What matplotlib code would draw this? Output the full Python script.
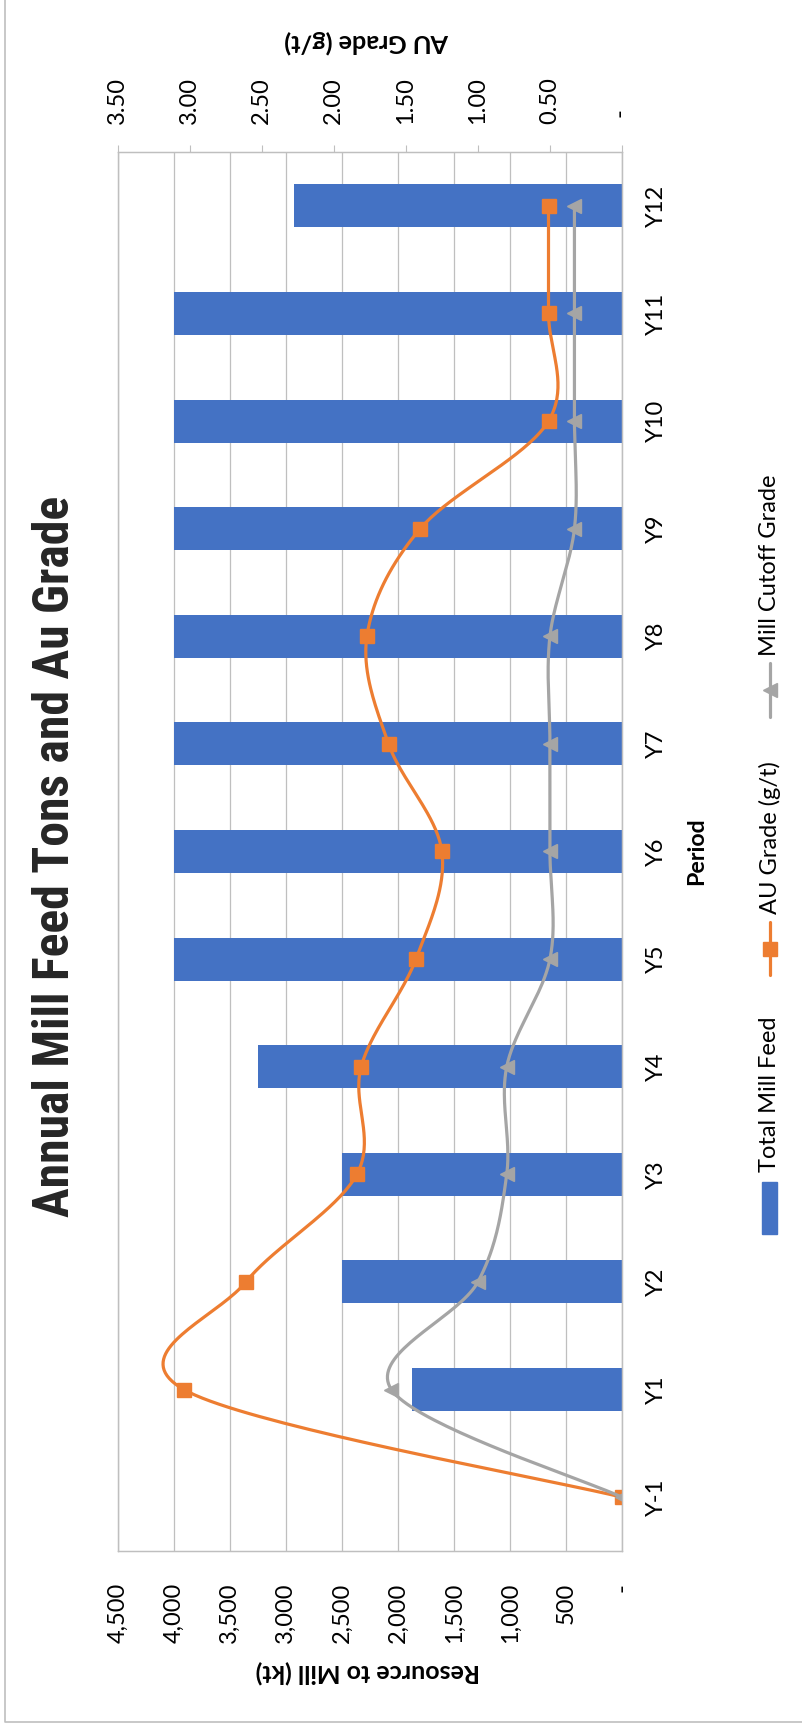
import numpy as np
import matplotlib.pyplot as plt
from matplotlib.lines import Line2D
from matplotlib.patches import Rectangle

plt.rcParams['font.family'] = ['Lato', 'DejaVu Sans']

# data
periods = ["Y-1", "Y1", "Y2", "Y3", "Y4", "Y5", "Y6", "Y7", "Y8", "Y9", "Y10", "Y11", "Y12"]
mill_feed_kt = [0, 1875, 2500, 2500, 3250, 4000, 4000, 4000, 4000, 4000, 4000, 4000, 2925]
au_grade = [0, 3.04, 2.61, 1.84, 1.81, 1.43, 1.25, 1.62, 1.77, 1.40, 0.51, 0.51, 0.51]
cutoff_grade = [0, 1.60, 1.00, 0.80, 0.80, 0.50, 0.50, 0.50, 0.50, 0.33, 0.33, 0.33, 0.33]

kt_ticks = [0, 500, 1000, 1500, 2000, 2500, 3000, 3500, 4000, 4500]
kt_labels = ["-", "500", "1,000", "1,500", "2,000", "2,500", "3,000", "3,500", "4,000", "4,500"]
grade_ticks = [0, 0.5, 1.0, 1.5, 2.0, 2.5, 3.0, 3.5]
grade_labels = [" -", "0.50", "1.00", "1.50", "2.00", "2.50", "3.00", "3.50"]

BLUE = "#4472C4"
ORANGE = "#ED7D31"
GREY = "#A5A5A5"
GRID = "#BFBFBF"
W, H = 802, 1728


def smooth_curve(xs, ys, n=40):
    # excel style smoothed line: cubic bezier through the points
    pts = np.column_stack([xs, ys]).astype(float)
    ext = np.vstack([pts[0], pts, pts[-1]])
    t = np.linspace(0, 1, n)[1:, None]
    out = [pts[:1]]
    for i in range(len(pts) - 1):
        p0, p1, p2, p3 = ext[i], ext[i + 1], ext[i + 2], ext[i + 3]
        c1 = p1 + (p2 - p0) / 6
        c2 = p2 - (p3 - p1) / 6
        seg = (1 - t) ** 3 * p1 + 3 * (1 - t) ** 2 * t * c1 + 3 * (1 - t) * t ** 2 * c2 + t ** 3 * p2
        out.append(seg)
    out = np.vstack(out)
    return out[:, 0], out[:, 1]


def fit_length(txt, target_px):
    # scale font size so the (rotated) text runs target_px long
    bb = txt.get_window_extent(fig.canvas.get_renderer())
    txt.set_fontsize(txt.get_fontsize() * target_px / max(bb.width, bb.height))


fig = plt.figure(figsize=(W / 100, H / 100), dpi=100)
ax = fig.add_axes([117.6 / W, 1 - 1551 / H, (622 - 117.6) / W, (1551 - 152) / H])

y = np.arange(len(periods))
ax.barh(y, mill_feed_kt, height=0.4, color=BLUE, zorder=2)
ax.set_xlim(4500, 0)
ax.set_ylim(-0.5, len(periods) - 0.5)
ax.set_xticks(kt_ticks, kt_labels)
ax.grid(axis="x", color=GRID, lw=0.9)
ax.set_axisbelow(True)
ax.yaxis.tick_right()
ax.set_yticks(y, periods)
ax.tick_params(axis="x", length=0, labelsize=17, pad=23, labelrotation=90)
ax.tick_params(axis="y", length=0, labelsize=17, pad=17)
for lab in ax.get_yticklabels():
    lab.set_rotation(90)
    lab.set_va("center")
    lab.set_ha("left")
for s in ax.spines.values():
    s.set_color(GRID)
    s.set_linewidth(0.9)

ax2 = ax.twiny()
ax2.set_xlim(3.5, 0)
ax2.set_xticks(grade_ticks, grade_labels)
ax2.tick_params(axis="x", direction="out", length=5, color=GRID, labelsize=17, pad=15, labelrotation=90)
for s in ax2.spines.values():
    s.set_color(GRID)
    s.set_linewidth(0.9)

gx, gy = smooth_curve(au_grade, y)
ax2.plot(gx, gy, color=ORANGE, lw=2.3, solid_capstyle="round")
ax2.plot(au_grade, y, ls="none", marker="s", ms=10, color=ORANGE)
cx, cy = smooth_curve(cutoff_grade, y)
ax2.plot(cx, cy, color=GREY, lw=2.3, solid_capstyle="round")
ax2.plot(cutoff_grade, y, ls="none", marker="<", ms=9.5, color=GREY)

# overlay in pixel units for titles, legend and frame
ov = fig.add_axes([0, 0, 1, 1], zorder=5)
ov.set_xlim(0, W)
ov.set_ylim(H, 0)
ov.axis("off")

title = ov.text(56, 856, "Annual Mill Feed Tons and Au Grade", rotation=90, ha="center", va="center",
                fontsize=30, fontweight="bold", color="#262626",
                family=["Liberation Sans Narrow", "Roboto Condensed", "Lato"])
fit_length(title, 721)
t1 = ov.text(368, 1672, "Resource to Mill (kt)", rotation=180, ha="center", va="center",
             fontsize=16, fontweight="bold")
fit_length(t1, 225)
t2 = ov.text(367, 42, "AU Grade (g/t)", rotation=180, ha="center", va="center",
             fontsize=16, fontweight="bold")
fit_length(t2, 166)
t3 = ov.text(697, 851, "Period", rotation=90, ha="center", va="center", fontsize=16, fontweight="bold")
fit_length(t3, 68)

# legend
ov.add_patch(Rectangle((762, 1182), 15, 52, color=BLUE))
ov.text(770, 1172, "Total Mill Feed", rotation=90, ha="center", va="bottom", fontsize=17)
ov.add_line(Line2D([770, 770], [922, 975], color=ORANGE, lw=2.3, solid_capstyle="round"))
ov.plot([770], [948.5], marker="s", ms=10, color=ORANGE)
ov.text(770, 914, "AU Grade (g/t)", rotation=90, ha="center", va="bottom", fontsize=17)
ov.add_line(Line2D([770, 770], [663, 717], color=GREY, lw=2.3, solid_capstyle="round"))
ov.plot([770], [690], marker="<", ms=9.5, color=GREY)
ov.text(770, 656, "Mill Cutoff Grade", rotation=90, ha="center", va="bottom", fontsize=17)

# outer chart frame (left and bottom edges are visible)
ov.add_line(Line2D([5, 5, W], [0, 1722, 1722], color="#BFBFBF", lw=1.2))

fig.savefig("out.png", dpi=100)
